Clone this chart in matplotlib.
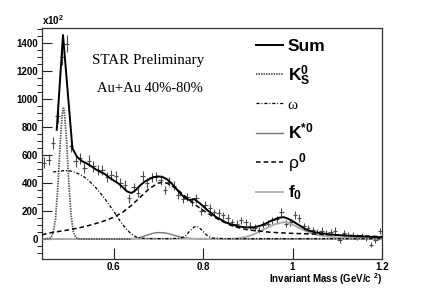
import numpy as np
import matplotlib
matplotlib.use("Agg")
import matplotlib.pyplot as plt

plt.rcParams['font.family'] = ['Liberation Sans', 'DejaVu Sans']
plt.rcParams['mathtext.fontset'] = 'custom'
plt.rcParams['mathtext.rm'] = 'Liberation Sans'
plt.rcParams['mathtext.bf'] = 'Liberation Sans:bold'
plt.rcParams['mathtext.it'] = 'Liberation Sans:italic'

# data histogram (bin centres, counts, errors)
mass = np.round(np.arange(0.445, 1.2, 0.01), 3)
counts = [545, 565, 685, 880, 1300, 1395, 665, 555, 575, 510,
          560, 520, 490, 495, 440, 455, 450, 400, 385, 290,
          370, 330, 450, 400, 440, 445, 420, 350, 410, 380,
          315, 285, 300, 265, 290, 200, 245, 220, 190, 185,
          170, 150, 120, 110, 135, 120, 95, 80, 65, 100,
          110, 135, 140, 195, 110, 120, 170, 150, 90, 75,
          65, 50, 60, 45, 50, 60, -5, 45, 30, 25,
          15, 20, 5, -40, -5, 60]
errs = [40, 40, 45, 50, 60, 62, 45, 40, 40, 38,
        38, 38, 36, 36, 35, 35, 35, 34, 33, 30,
        32, 32, 34, 33, 34, 34, 34, 32, 33, 32,
        30, 30, 30, 28, 30, 28, 28, 28, 27, 27,
        26, 26, 25, 25, 25, 25, 24, 24, 24, 25,
        25, 25, 26, 28, 25, 26, 27, 26, 24, 24,
        23, 23, 23, 22, 22, 23, 21, 22, 22, 22,
        21, 21, 21, 20, 21, 22]

# fit components
sum_m = [0.473, 0.487, 0.508, 0.518, 0.53, 0.54, 0.55, 0.56, 0.57, 0.58,
         0.59, 0.60, 0.61, 0.62, 0.63, 0.64, 0.65, 0.66, 0.67, 0.68,
         0.69, 0.70, 0.71, 0.72, 0.73, 0.74, 0.75, 0.76, 0.77, 0.78,
         0.79, 0.80, 0.81, 0.82, 0.83, 0.84, 0.85, 0.86, 0.87, 0.88,
         0.89, 0.90, 0.91, 0.92, 0.93, 0.94, 0.95, 0.96, 0.97, 0.98,
         0.99, 1.00, 1.01, 1.02, 1.03, 1.04, 1.05, 1.06, 1.07, 1.08,
         1.10, 1.12, 1.15, 1.20]
sum_v = [780, 1457, 648, 588, 555, 540, 520, 498, 480, 465,
         440, 418, 398, 372, 340, 328, 350, 385, 410, 428,
         442, 447, 442, 425, 395, 360, 322, 292, 278, 285,
         262, 235, 205, 180, 155, 138, 120, 108, 98, 90,
         85, 82, 82, 88, 97, 110, 127, 140, 152, 156,
         145, 128, 108, 88, 68, 56, 48, 43, 39, 34,
         28, 24, 19, 12]

k0s_m = [0.44, 0.45, 0.46, 0.465, 0.47, 0.475, 0.48, 0.485, 0.488, 0.49,
         0.495, 0.50, 0.505, 0.51, 0.515, 0.52, 0.53, 0.64]
k0s_v = [0, 0, 9, 42, 138, 346, 642, 887, 935, 913,
         701, 401, 171, 54, 13, 2, 0, 0]

om_m = [0.465, 0.48, 0.49, 0.50, 0.51, 0.52, 0.53, 0.54, 0.55, 0.56,
        0.57, 0.58, 0.59, 0.60, 0.61, 0.62, 0.63, 0.64, 0.65, 0.66,
        0.68, 0.72, 0.75, 0.76, 0.77, 0.78, 0.785, 0.79, 0.80, 0.81,
        0.82, 0.85, 1.2]
om_v = [478, 485, 488, 488, 480, 468, 452, 430, 400, 368,
        330, 290, 245, 200, 150, 105, 65, 35, 15, 6,
        3, 2, 5, 20, 55, 85, 90, 85, 55, 22,
        7, 2, 2]

kst_m = [0.44, 0.63, 0.65, 0.66, 0.67, 0.68, 0.69, 0.70, 0.71, 0.72,
         0.73, 0.74, 0.75, 0.76, 0.77, 0.79, 1.2]
kst_v = [0, 0, 5, 12, 22, 33, 42, 46, 45, 40,
         32, 22, 14, 8, 4, 0, 0]

rho_m = [0.44, 0.46, 0.48, 0.50, 0.52, 0.54, 0.56, 0.58, 0.60, 0.62,
         0.64, 0.66, 0.68, 0.70, 0.71, 0.72, 0.74, 0.76, 0.78, 0.80,
         0.82, 0.84, 0.86, 0.88, 0.90, 0.95, 1.00, 1.05, 1.10, 1.15, 1.20]
rho_v = [30, 45, 55, 65, 78, 92, 110, 130, 155, 190,
         240, 300, 360, 400, 405, 398, 360, 305, 250, 205,
         165, 130, 100, 80, 65, 48, 40, 35, 28, 22, 17]

f0_m = [0.44, 0.86, 0.88, 0.90, 0.92, 0.94, 0.96, 0.98, 0.99, 1.00,
        1.02, 1.04, 1.06, 1.08, 1.10, 1.15, 1.20]
f0_v = [0, 2, 6, 18, 42, 75, 105, 120, 116, 104,
        70, 42, 25, 16, 11, 6, 4]

fig = plt.figure(figsize=(4.24, 2.88), dpi=100)
ax = fig.add_axes([0.099, 0.1007, 0.802, 0.802])

ax.errorbar(mass, counts, yerr=errs, xerr=0.005, fmt='none',
            ecolor='#4a4a4a', elinewidth=0.8, capsize=0, zorder=2)

ax.plot(kst_m, kst_v, color='#777777', lw=1.0, zorder=3, label='kst')
ax.plot(f0_m, f0_v, color='#aaaaaa', lw=1.3, zorder=3, label='f0')
ax.plot(k0s_m, k0s_v, color='#555555', lw=1.3, ls=(0, (0.8, 0.6)), zorder=4,
        label='k0s')
ax.plot(om_m, om_v, color='black', lw=0.9, ls=(0, (2.5, 1.5, 0.8, 1.5)), zorder=4,
        label='omega')
ax.plot(rho_m, rho_v, color='black', lw=1.1, ls=(0, (3, 2)), zorder=4,
        label='rho')
ax.plot(sum_m, sum_v, color='black', lw=1.4, zorder=5, label='sum')

ax.set_xlim(0.44, 1.2)
ax.set_ylim(-143, 1507)

ax.set_xticks([0.6, 0.8, 1.0, 1.2])
ax.set_xticklabels(['0.6', '0.8', '1', '1.2'])
ax.set_yticks(np.arange(0, 1401, 200))
ax.set_yticks(np.arange(-100, 1501, 50), minor=True)
ax.tick_params(axis='both', direction='in', labelsize=7, width=0.8, color='#222222')
ax.tick_params(axis='y', which='major', length=7, pad=3)
ax.tick_params(axis='y', which='minor', length=3.5, width=0.6)
ax.tick_params(axis='x', which='major', length=8, pad=2)
ax.tick_params(axis='x', which='minor', length=0)
for lab in ax.get_xticklabels() + ax.get_yticklabels():
    lab.set_fontweight('bold')
for sp in ax.spines.values():
    sp.set_linewidth(0.9)
    sp.set_color('#333333')

ax.text(0.0, 1.005, r'x10$^{\mathbf{2}}$', transform=ax.transAxes,
        fontsize=7, fontweight='bold', ha='left', va='bottom')
ax.text(1.0, -0.088, r'Invariant Mass (GeV/c $^{\mathbf{2}}$)', transform=ax.transAxes,
        fontsize=7, fontweight='bold', ha='right', va='center')

ax.text(0.312, 0.861, 'STAR Preliminary', transform=ax.transAxes,
        family='Liberation Serif', fontsize=10.8, ha='center', va='center')
ax.text(0.318, 0.74, 'Au+Au 40%-80%', transform=ax.transAxes,
        family='Liberation Serif', fontsize=10.5, ha='center', va='center')

handles, labels = ax.get_legend_handles_labels()
hmap = dict(zip(labels, handles))
order = ['sum', 'k0s', 'omega', 'kst', 'rho', 'f0']
names = ['Sum', r'$\mathbf{K^0_S}$', 'ω', r'$\mathbf{K^{*0}}$',
         r'$\mathrm{\rho}^\mathbf{0}$', r'$\mathbf{f_0}$']
leg = ax.legend([hmap[k] for k in order], names, loc='upper left',
                bbox_to_anchor=(0.6, 1.0), frameon=False, handlelength=1.55,
                handletextpad=0.25, labelspacing=0.55, borderaxespad=0.2,
                prop={'weight': 'bold', 'size': 12.5})
om_txt = leg.get_texts()[2]
om_txt.set_family('Liberation Serif')
om_txt.set_fontweight('normal')
om_txt.set_fontsize(11)

fig.savefig('out.png', dpi=100)
